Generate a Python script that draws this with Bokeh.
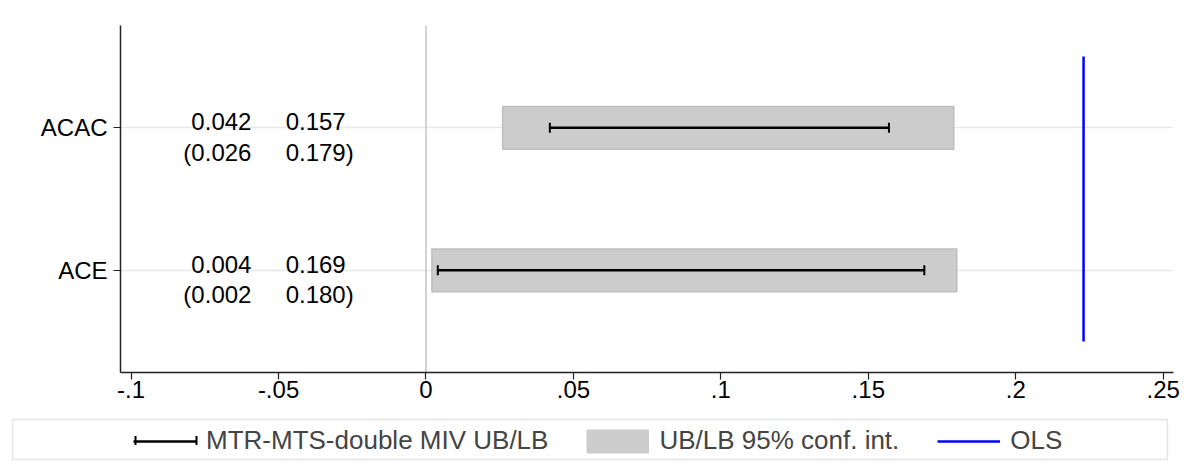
import numpy as np
from bokeh.plotting import figure
from bokeh.models import (ColumnDataSource, Range1d, FixedTicker, Span, Legend,
                          LegendItem)
from bokeh.embed import file_html
from bokeh.resources import INLINE
from bokeh.core.properties import value

# ---- data ----
categories = ["ACE", "ACAC"]
bound_lb = [0.004, 0.042]     # MTR-MTS-double MIV lower bound
bound_ub = [0.169, 0.157]     # MTR-MTS-double MIV upper bound
ci_lb = [0.002, 0.026]        # 95% conf. int. lower
ci_ub = [0.180, 0.179]        # 95% conf. int. upper
ols = [0.223]                 # OLS estimate
x_ticks = [-0.1, -0.05, 0, 0.05, 0.1, 0.15, 0.2, 0.25]
x_tick_labels = ["-.1", "-.05", "0", ".05", ".1", ".15", ".2", ".25"]
legend_labels = ["MTR-MTS-double MIV UB/LB", "UB/LB 95% conf. int.", "OLS"]

FONT = "Liberation Sans"
ypos = list(range(1, len(categories) + 1))

src = ColumnDataSource(dict(
    y=ypos, cat=categories, blb=bound_lb, bub=bound_ub, clb=ci_lb, cub=ci_ub,
    t1a=[f"{v:.3f}" for v in bound_lb],
    t1b=[f"{v:.3f}" for v in bound_ub],
    t2a=["(" + f"{v:.3f}" for v in ci_lb],
    t2b=[f"{v:.3f}" + ")" for v in ci_ub],
))

p = figure(width=1191, height=410,
           x_range=Range1d(-0.1036, 0.2535), y_range=Range1d(0.283, 2.718),
           output_backend="svg", toolbar_location=None,
           min_border_left=120, min_border_right=18,
           min_border_top=25, min_border_bottom=38)
p.outline_line_color = None
p.background_fill_color = "white"
p.border_fill_color = "white"

# zero reference line
p.add_layout(Span(location=0, dimension="height", line_color="#c4c4c4",
                  line_width=1.5, level="underlay"))

# CI bars
p.hbar(y="y", left="clb", right="cub", height=0.3, fill_color="#cccccc",
       line_color="#bebebe", line_width=1.5, source=src)

# bounds (error bars with caps)
p.segment(x0="blb", y0="y", x1="bub", y1="y", line_color="black",
          line_width=2.5, source=src)
p.scatter(x="blb", y="y", marker="dash", angle=np.pi / 2, size=10,
          line_color="black", line_width=2, source=src)
p.scatter(x="bub", y="y", marker="dash", angle=np.pi / 2, size=10,
          line_color="black", line_width=2, source=src)

# OLS line
p.segment(x0=ols, x1=ols, y0=[ypos[0] - 0.5], y1=[ypos[-1] + 0.5],
          line_color="#0000ff", line_width=2.5)

# value annotations
XL, XR = -0.0592, -0.0476
common = dict(text_font=value(FONT), text_font_size="24px", text_color="black",
              text_baseline="alphabetic", source=src)
p.text(x=XL, y="y", text="t1a", text_align="right", y_offset=-6, **common)
p.text(x=XR, y="y", text="t1b", text_align="left", y_offset=-6, **common)
p.text(x=XL, y="y", text="t2a", text_align="right", y_offset=24.5, **common)
p.text(x=XR, y="y", text="t2b", text_align="left", y_offset=24.5, **common)

# axes
p.xaxis.ticker = FixedTicker(ticks=x_ticks)
p.xaxis.major_label_overrides = dict(zip(x_ticks, x_tick_labels))
p.yaxis.ticker = FixedTicker(ticks=ypos)
p.yaxis.major_label_overrides = dict(zip(ypos, categories))
for ax in (p.xaxis[0], p.yaxis[0]):
    ax.major_label_text_font = FONT
    ax.major_label_text_font_size = "24px"
    ax.major_label_text_color = "black"
    ax.axis_line_color = "#222222"
    ax.axis_line_width = 1.5
    ax.major_tick_line_color = "#222222"
    ax.major_tick_line_width = 1.2
    ax.major_tick_in = 0
    ax.major_tick_out = 7
    ax.minor_tick_line_color = None
p.xaxis.major_label_standoff = 1
p.yaxis.major_label_standoff = 6
p.xgrid.visible = False
p.ygrid.grid_line_color = "#e8e8e8"
p.ygrid.grid_line_width = 1.5

# ---- legend panel (separate root; pixel coordinates) ----
LW, LH = 1191, 65
lg = figure(width=LW, height=LH, x_range=Range1d(0, LW), y_range=Range1d(0, LH),
            output_backend="svg", toolbar_location=None, min_border=0,
            x_axis_type=None, y_axis_type=None)
lg.outline_line_color = None
lg.grid.visible = False
lg.background_fill_color = "white"
lg.border_fill_color = "white"
lg.quad(left=12, right=1167, bottom=16, top=56, fill_color="white",
        line_color="#e4e4e4", line_width=1.5)
nan = [float("nan")]
r1 = lg.line(x=nan, y=nan, line_color="black", line_width=2.5)
r2 = lg.line(x=nan, y=nan, line_color="#cccccc", line_width=24)
r3 = lg.line(x=nan, y=nan, line_color="#0000ff", line_width=2.5)
# caps of the error-bar legend symbol
lg.segment(x0=[135, 196], x1=[135, 196], y0=[30.5, 30.5], y1=[39.5, 39.5],
           line_color="black", line_width=2)

legend = Legend(items=[LegendItem(label=legend_labels[0], renderers=[r1]),
                       LegendItem(label=legend_labels[1], renderers=[r2]),
                       LegendItem(label=legend_labels[2], renderers=[r3])],
                orientation="horizontal", location=(133, 19), padding=5,
                spacing=38, label_standoff=10, glyph_width=63, glyph_height=30,
                label_height=30,
                label_text_font=FONT, label_text_font_size="26px",
                border_line_color=None, background_fill_alpha=0, margin=0)
lg.add_layout(legend)

open("out.html", "w").write(file_html([p, lg], INLINE))
